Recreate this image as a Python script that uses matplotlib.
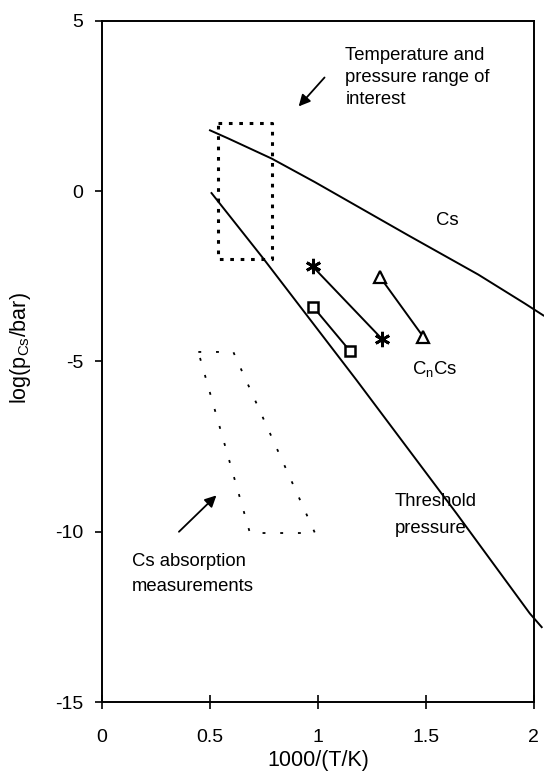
import matplotlib
matplotlib.use('Agg')
import matplotlib.pyplot as plt
from matplotlib import rc
rc('mathtext', default='regular')

plt.rcParams['axes.unicode_minus'] = False
plt.rcParams['font.family'] = ['Liberation Sans', 'DejaVu Sans']

# Cs vapour pressure line
cs_x = [0.50, 0.585, 0.786, 0.986, 1.202, 1.418, 1.742, 1.958, 2.044]
cs_y = [1.78, 1.54, 0.95, 0.26, -0.52, -1.30, -2.45, -3.30, -3.65]
# threshold pressure line
th_x = [0.507, 0.747, 1.179, 1.642, 1.981, 2.036]
th_y = [-0.06, -1.98, -5.55, -9.46, -12.39, -12.79]
# CnCs data pairs
star_x = [0.975, 1.295]
star_y = [-2.21, -4.33]
sq_x = [0.978, 1.148]
sq_y = [-3.40, -4.69]
tri_x = [1.287, 1.488]
tri_y = [-2.52, -4.28]
# region of interest box
box_x = [0.536, 0.786, 0.786, 0.536, 0.536]
box_y = [2.0, 2.0, -2.0, -2.0, 2.0]
# Cs absorption measurement region
abs_x = [0.446, 0.608, 0.986, 0.685, 0.446]
abs_y = [-4.72, -4.72, -10.03, -10.03, -4.72]

fig = plt.figure(figsize=(5.44, 7.77), dpi=100)
ax = fig.add_axes([0.1875, 0.0959, 0.794, 0.8777])

ax.plot(cs_x, cs_y, color='black', lw=1.4, clip_on=False)
ax.plot(th_x, th_y, color='black', lw=1.4, clip_on=False)
ax.plot(star_x, star_y, color='black', lw=1.4, marker=(6, 2, 0), ms=11, mew=2)
ax.plot(sq_x, sq_y, color='black', lw=1.4, marker='s', ms=7.5, mfc='white', mew=1.8)
ax.plot(tri_x, tri_y, color='black', lw=1.4, marker='^', ms=8.5, mfc='white', mew=1.6)
ax.plot(box_x, box_y, color='black', lw=2.2, linestyle=(0, (1.2, 2.2)))
ax.plot(abs_x, abs_y, color='black', lw=1.3, linestyle=(0, (1.6, 8.2)))

fs = 13.3
ax.text(1.127, 4.23, 'Temperature and\npressure range of\ninterest', fontsize=fs,
        va='top', ha='left', linespacing=1.40)
ax.annotate('', xy=(0.902, 2.42), xytext=(1.039, 3.39),
            arrowprops=dict(arrowstyle='-|>', color='black', lw=1.3, mutation_scale=17))
ax.text(1.597, -1.01, 'Cs', fontsize=fs, ha='center', va='baseline')
ax.text(1.434, -5.36, 'C$_n$Cs', fontsize=fs, ha='left', va='baseline')
ax.text(1.356, -8.87, 'Threshold\npressure', fontsize=fs, ha='left', va='top',
        linespacing=1.70)
ax.text(0.139, -10.63, 'Cs absorption\nmeasurements', fontsize=fs, ha='left',
        va='top', linespacing=1.57)
ax.annotate('', xy=(0.539, -8.87), xytext=(0.347, -10.05),
            arrowprops=dict(arrowstyle='-|>', color='black', lw=1.3, mutation_scale=17))

ax.set_xlim(0, 2)
ax.set_ylim(-15, 5)
ax.set_xticks([0, 0.5, 1, 1.5, 2])
ax.set_xticklabels(['0', '0.5', '1', '1.5', '2'])
ax.set_yticks([-15, -10, -5, 0, 5])
ax.tick_params(axis='x', direction='inout', length=10, width=1.2, labelsize=14, pad=14)
ax.tick_params(axis='y', direction='out', length=5, width=1.2, labelsize=14, pad=8.5)
for s in ax.spines.values():
    s.set_linewidth(1.4)
ax.set_xlabel('1000/(T/K)', fontsize=15.5)
ax.set_ylabel('log(p$_{Cs}$/bar)', fontsize=15.5)
ax.xaxis.set_label_coords(0.5, -0.069)
ax.yaxis.set_label_coords(-0.16, 0.52)

fig.savefig('out.png', dpi=100)
